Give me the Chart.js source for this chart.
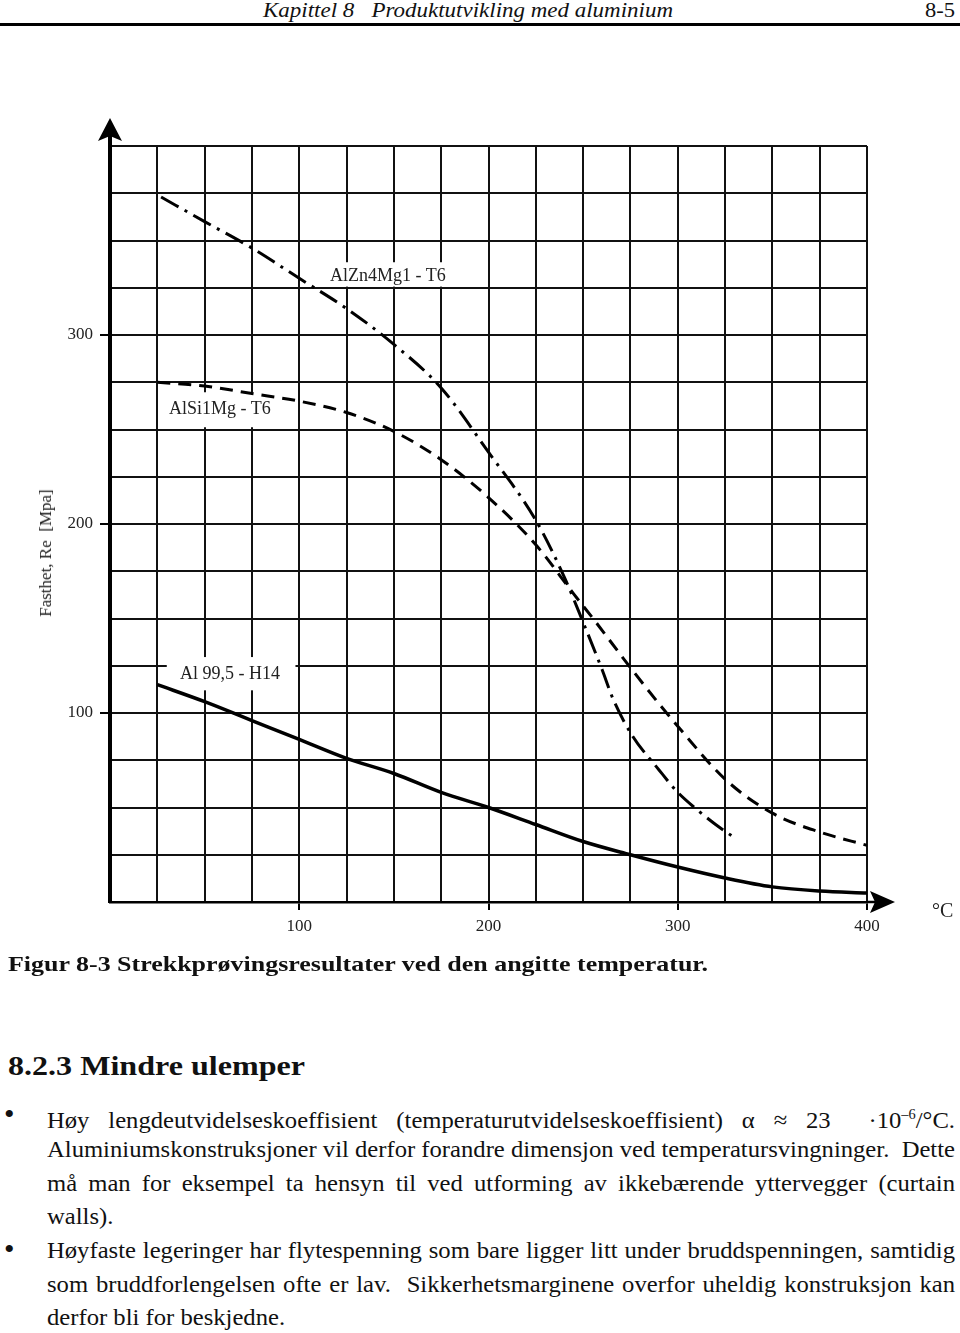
<!DOCTYPE html>
<html>
<head>
<meta charset="utf-8">
<script src="https://cdn.jsdelivr.net/npm/chart.js@4.4.1/dist/chart.umd.min.js"></script>
<style>
  body { margin: 0; width: 960px; height: 1333px; background: #fff; position: relative; overflow: hidden;
         font-family: "Liberation Serif", "Times New Roman", Tinos, Times, serif; color: #111; }
  .abs { position: absolute; white-space: nowrap; transform-origin: 0 0; }
  .rule { position: absolute; left: 0; top: 23px; width: 960px; height: 3px; background: #000; }
  .lbl { position: absolute; font-size: 18px; white-space: nowrap; color: #222; }
  .line { position: absolute; left: 47px; font-size: 24px; line-height: 34px; height: 34px; transform-origin: 0 0; }
  .just { text-align: justify; text-align-last: justify; }
  .bullet { position: absolute; left: 4px; font-size: 30px; line-height: 34px; }
  #wrap { position: absolute; left: 0; top: 100px; width: 960px; height: 860px; }
</style>
</head>
<body>
<div class="abs fit" data-w="410" style="left:263px; top:-2px; font-size:21px; font-style:italic;">Kapittel 8&nbsp;&nbsp; Produktutvikling med aluminium</div>
<div class="abs fit" data-w="30" style="left:925px; top:-2px; font-size:21px;">8-5</div>
<div class="rule"></div>

<div id="wrap"><canvas id="grafico"></canvas></div>

<div class="lbl" style="left:330px; top:265px;">AlZn4Mg1 - T6</div>
<div class="lbl" style="left:169px; top:398px;">AlSi1Mg - T6</div>
<div class="lbl" style="left:180px; top:663px;">Al 99,5 - H14</div>

<div class="abs" style="left:36px; top:553px; font-size:17px; color:#222; white-space:pre; transform:rotate(-90deg) translate(-50%, 0); transform-origin:0 0;">Fasthet, Re  [Mpa]</div>
<div class="abs" style="left:932px; top:899px; font-size:20px; color:#222;">°C</div>

<div class="abs fit" data-w="700" style="left:8px; top:952px; font-size:21px; font-weight:bold;">Figur 8-3 Strekkprøvingsresultater ved den angitte temperatur.</div>
<div class="abs fit" data-w="297" style="left:8px; top:1050px; font-size:28px; font-weight:bold;">8.2.3 Mindre ulemper</div>

<div class="bullet" style="top:1097px;">•</div>
<div class="bullet" style="top:1232px;">•</div>
<div class="line just" style="top:1098px;">Høy lengdeutvidelseskoeffisient (temperaturutvidelseskoeffisient) α ≈ 23 &nbsp;·10<sup style="font-size:14px;">–6</sup>/°C.</div>
<div class="line just" style="top:1132px;">Aluminiumskonstruksjoner vil derfor forandre dimensjon ved temperatursvingninger.&nbsp; Dette</div>
<div class="line just" style="top:1166px;">må man for eksempel ta hensyn til ved utforming av ikkebærende yttervegger (curtain</div>
<div class="line" style="top:1199px;">walls).</div>
<div class="line just" style="top:1233px;">Høyfaste legeringer har flytespenning som bare ligger litt under bruddspenningen, samtidig</div>
<div class="line just" style="top:1267px;">som bruddforlengelsen ofte er lav.&nbsp; Sikkerhetsmarginene overfor uheldig konstruksjon kan</div>
<div class="line" style="top:1300px;">derfor bli for beskjedne.</div>

<script>
// temperatur (°C) og fasthet (MPa) lest av figuren
const aksetickTemp = [100, 200, 300, 400];
const aksetickFasthet = [100, 200, 300];
const navn = ["AlZn4Mg1 - T6", "AlSi1Mg - T6", "Al 99,5 - H14"];

const alZnTemp = [27, 50, 75, 100, 125, 150, 175, 200, 225, 240, 250, 260, 266, 276, 290, 300, 310, 320, 330];
const alZnFasthet = [373, 360, 346, 330, 314, 295, 272, 238, 202, 172, 148, 123, 107, 88, 70, 58, 49, 41, 34];

const alSiTemp = [25, 50, 75, 100, 125, 150, 175, 200, 225, 245, 256, 275, 290, 300, 325, 350, 375, 400];
const alSiFasthet = [275, 273, 269, 265, 259, 249, 234, 214, 189, 163, 149, 124, 105, 93, 65, 47, 37, 30];

const al995Temp = [25, 50, 75, 100, 125, 150, 175, 200, 225, 250, 275, 300, 325, 350, 375, 400];
const al995Fasthet = [115, 106, 96, 86, 76, 68, 58, 50, 41, 32, 25, 18.5, 12.7, 8, 5.8, 4.8];

function punkter(xs, ys) {
  return xs.map(function (x, i) { return { x: x, y: ys[i] }; });
}

// tekst som skal passe en gitt bredde
document.querySelectorAll(".fit").forEach(function (el) {
  var w = el.getBoundingClientRect().width;
  el.style.transform = "scaleX(" + (el.dataset.w / w) + ")";
});

// brødtekst: felles horisontal skalering
var linjer = document.querySelectorAll(".line");
var bredde = 908;
var s = 10;
linjer.forEach(function (el) {
  if (!el.classList.contains("just")) return;
  var sp = document.createElement("span");
  sp.style.whiteSpace = "nowrap";
  sp.style.font = getComputedStyle(el).font;
  sp.style.position = "absolute";
  sp.innerHTML = el.innerHTML;
  document.body.appendChild(sp);
  s = Math.min(s, bredde / sp.getBoundingClientRect().width);
  sp.remove();
});
linjer.forEach(function (el) {
  el.style.width = (bredde / s) + "px";
  el.style.transform = "scaleX(" + s + ")";
});

// hvite felt bak kurvenavnene (i aksens enheter), tegnes over rutenettet
const etikettfelt = {
  id: "etikettfelt",
  beforeDatasetsDraw: function (chart) {
    const x = chart.scales.x, y = chart.scales.y, c = chart.ctx;
    const felt = [
      [112, 185, 338.5, 325.6],
      [26, 95.5, 269.7, 251.2],
      [30, 98, 129.6, 112],
    ];
    c.save();
    c.fillStyle = "#fff";
    felt.forEach(function (f) {
      const x0 = x.getPixelForValue(f[0]), x1 = x.getPixelForValue(f[1]);
      const y0 = y.getPixelForValue(f[2]), y1 = y.getPixelForValue(f[3]);
      c.fillRect(x0, y0, x1 - x0, y1 - y0);
    });
    c.restore();
  }
};

const piler = {
  id: "piler",
  afterDraw: function (chart) {
    const ctx = chart.ctx;
    const a = chart.chartArea;
    ctx.save();
    ctx.fillStyle = "#000";
    ctx.strokeStyle = "#000";
    // y-akse opp
    ctx.lineWidth = 4;
    ctx.beginPath();
    ctx.moveTo(a.left, a.top);
    ctx.lineTo(a.left, a.top - 12);
    ctx.stroke();
    ctx.beginPath();
    ctx.moveTo(a.left, a.top - 28);
    ctx.lineTo(a.left - 12, a.top - 5);
    ctx.lineTo(a.left, a.top - 10);
    ctx.lineTo(a.left + 12, a.top - 5);
    ctx.closePath();
    ctx.fill();
    // x-akse til hoyre
    ctx.lineWidth = 2.5;
    ctx.beginPath();
    ctx.moveTo(a.right, a.bottom);
    ctx.lineTo(a.right + 10, a.bottom);
    ctx.stroke();
    ctx.beginPath();
    ctx.moveTo(a.right + 28, a.bottom);
    ctx.lineTo(a.right + 3, a.bottom - 11);
    ctx.lineTo(a.right + 8, a.bottom);
    ctx.lineTo(a.right + 3, a.bottom + 11);
    ctx.closePath();
    ctx.fill();
    ctx.restore();
  }
};

const ctx = document.getElementById("grafico").getContext("2d");

const grafico = new Chart(ctx, {
  type: "line",
  data: {
    datasets: [
      {
        label: navn[0],
        data: punkter(alZnTemp, alZnFasthet),
        borderColor: "#000",
        borderWidth: 3,
        borderDash: [20, 7, 3, 7],
        cubicInterpolationMode: "monotone",
        pointRadius: 0,
      },
      {
        label: navn[1],
        data: punkter(alSiTemp, alSiFasthet),
        borderColor: "#000",
        borderWidth: 3,
        borderDash: [13, 8],
        cubicInterpolationMode: "monotone",
        pointRadius: 0,
      },
      {
        label: navn[2],
        data: punkter(al995Temp, al995Fasthet),
        borderColor: "#000",
        borderWidth: 3.5,
        cubicInterpolationMode: "monotone",
        pointRadius: 0,
      },
    ],
  },
  options: {
    responsive: true,
    maintainAspectRatio: false,
    animation: false,
    layout: { padding: { top: 46, right: 93, bottom: 0, left: 0 } },
    plugins: { legend: { display: false }, tooltip: { enabled: false } },
    scales: {
      x: {
        type: "linear",
        min: 0,
        max: 400,
        afterFit: function (sc) { sc.height = 58; },
        ticks: {
          stepSize: 25,
          autoSkip: false,
          maxRotation: 0,
          padding: 6,
          color: "#222",
          font: { family: "Liberation Serif", size: 17 },
          callback: function (v) { return aksetickTemp.indexOf(v) >= 0 ? String(v) : ""; },
        },
        grid: {
          color: "#111",
          lineWidth: 2,
          tickLength: 8,
          tickWidth: 2,
          tickColor: function (c) { return aksetickTemp.indexOf(c.tick.value) >= 0 ? "#000" : "rgba(0,0,0,0)"; },
        },
        border: { color: "#000", width: 2.5 },
      },
      y: {
        type: "linear",
        min: 0,
        max: 400,
        afterFit: function (sc) { sc.width = 110; },
        ticks: {
          stepSize: 25,
          autoSkip: false,
          padding: 7,
          color: "#222",
          font: { family: "Liberation Serif", size: 17 },
          callback: function (v) { return aksetickFasthet.indexOf(v) >= 0 ? String(v) : ""; },
        },
        grid: {
          color: "#111",
          lineWidth: 2,
          tickLength: 10,
          tickWidth: 2,
          tickColor: function (c) { return aksetickFasthet.indexOf(c.tick.value) >= 0 ? "#000" : "rgba(0,0,0,0)"; },
        },
        border: { color: "#000", width: 4 },
      },
    },
  },
  plugins: [etikettfelt, piler],
});
</script>
</body>
</html>
